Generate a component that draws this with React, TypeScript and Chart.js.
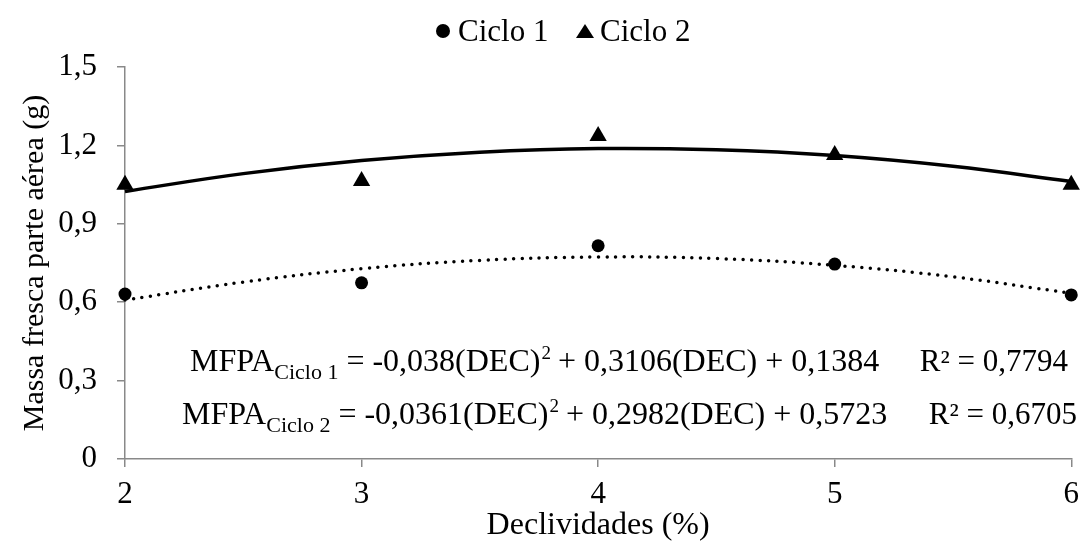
import React, { useEffect, useRef } from 'react';
import { Chart, registerables } from 'chart.js';

Chart.register(...registerables);

// ---- data ----
const declividades = [2, 3, 4, 5, 6];
const ciclo1 = [0.631, 0.674, 0.816, 0.746, 0.628];
const ciclo2 = [1.049, 1.064, 1.236, 1.163, 1.049];
const trendX = [2, 2.5, 3, 3.5, 4, 4.5, 5, 5.5, 6];
const trendCiclo1 = [0.608, 0.677, 0.728, 0.76, 0.773, 0.767, 0.741, 0.697, 0.634];
const trendCiclo2 = [1.024, 1.092, 1.142, 1.174, 1.188, 1.183, 1.161, 1.12, 1.062];
const yTickLabels = ['0', '0,3', '0,6', '0,9', '1,2', '1,5'];
const xTickLabels = ['2', '3', '4', '5', '6'];
const seriesNames = ['Ciclo 1', 'Ciclo 2'];
const xTitle = 'Declividades (%)';
const yTitle = 'Massa fresca parte aérea (g)';
const equation1 = [
  ['MFPA', 'n'],
  ['Ciclo 1', 'sub'],
  [' = -0,038(DEC)', 'n'],
  ['2', 'sup'],
  [' + 0,3106(DEC) + 0,1384', 'n'],
];
const equation2 = [
  ['MFPA', 'n'],
  ['Ciclo 2', 'sub'],
  [' = -0,0361(DEC)', 'n'],
  ['2', 'sup'],
  [' + 0,2982(DEC) + 0,5723', 'n'],
];
const r2Texts = ['R² = 0,7794', 'R² = 0,6705'];

const FONT = "'Liberation Serif', 'Times New Roman', serif";
const AXIS_GREY = '#898989';
const FS = 31;

const overlayPlugin = {
  id: 'overlay',
  afterDraw(chart: any) {
    const ctx = chart.ctx as CanvasRenderingContext2D;
    ctx.save();
    ctx.fillStyle = '#000';
    ctx.textBaseline = 'alphabetic';
    ctx.textAlign = 'left';

    // legend
    ctx.beginPath();
    ctx.arc(443, 31, 7, 0, Math.PI * 2);
    ctx.fill();
    ctx.font = `${FS}px ${FONT}`;
    ctx.fillText(seriesNames[0], 458, 41);
    ctx.beginPath();
    ctx.moveTo(585, 24);
    ctx.lineTo(594, 38);
    ctx.lineTo(576, 38);
    ctx.closePath();
    ctx.fill();
    ctx.fillText(seriesNames[1], 600, 41);

    // equations
    const drawEq = (segs: any[], x0: number, base: number) => {
      let x = x0;
      for (const [t, kind] of segs) {
        if (kind === 'n') {
          ctx.font = `32px ${FONT}`;
          ctx.fillText(t, x, base);
        } else if (kind === 'sub') {
          ctx.font = `22px ${FONT}`;
          ctx.fillText(t, x, base + 8);
        } else {
          ctx.font = `19px ${FONT}`;
          ctx.fillText(t, x + 1, base - 12);
        }
        x += ctx.measureText(t).width;
      }
    };
    drawEq(equation1, 190, 371);
    drawEq(equation2, 182, 424);
    ctx.font = `${FS}px ${FONT}`;
    ctx.textAlign = 'right';
    ctx.fillText(r2Texts[0], 1068, 371);
    ctx.fillText(r2Texts[1], 1077, 424);
    ctx.restore();
  },
};

export default function App() {
  const ref = useRef<HTMLCanvasElement>(null);
  useEffect(() => {
    document.body.style.margin = '0';
    document.body.style.overflow = 'hidden';
    const canvas = ref.current!;
    const chart = new Chart(canvas, {
      type: 'scatter',
      data: {
        datasets: [
          {
            type: 'scatter',
            label: seriesNames[0],
            data: declividades.map((x, i) => ({ x, y: ciclo1[i] })),
            pointStyle: 'circle',
            pointRadius: 6.5,
            backgroundColor: '#000',
            borderColor: '#000',
            borderWidth: 0,
            order: 0,
            clip: false,
          } as any,
          {
            type: 'scatter',
            label: seriesNames[1],
            data: declividades.map((x, i) => ({ x, y: ciclo2[i] })),
            pointStyle: 'triangle',
            pointRadius: 10,
            backgroundColor: '#000',
            borderColor: '#000',
            borderWidth: 0,
            order: 0,
            clip: false,
          } as any,
          {
            type: 'line',
            label: 'trend1',
            data: trendX.map((x, i) => ({ x, y: trendCiclo1[i] })),
            borderColor: '#000',
            borderWidth: 3.5,
            borderDash: [0, 8.5],
            borderCapStyle: 'round',
            pointRadius: 0,
            tension: 0.4,
            fill: false,
            order: 1,
            clip: false,
          } as any,
          {
            type: 'line',
            label: 'trend2',
            data: trendX.map((x, i) => ({ x, y: trendCiclo2[i] })),
            borderColor: '#000',
            borderWidth: 3.5,
            pointRadius: 0,
            tension: 0.4,
            fill: false,
            order: 1,
            clip: false,
          } as any,
        ],
      },
      options: {
        animation: false,
        responsive: false,
        devicePixelRatio: 1,
        layout: { padding: { top: 67, right: 11, left: 0, bottom: 0 } },
        plugins: { legend: { display: false }, tooltip: { enabled: false } },
        scales: {
          x: {
            type: 'linear',
            min: 2,
            max: 6,
            afterFit: (s: any) => { s.height = 83; },
            ticks: {
              stepSize: 1,
              color: '#000',
              font: { family: FONT, size: FS },
              padding: 9,
              callback: (_v: any, i: number) => xTickLabels[i],
            },
            grid: { drawOnChartArea: false, drawTicks: true, tickLength: 8, color: AXIS_GREY, lineWidth: 1.5 },
            border: { display: true, color: AXIS_GREY, width: 1.5 },
            title: {
              display: true,
              text: xTitle,
              color: '#000',
              font: { family: FONT, size: 32, lineHeight: 1 },
              padding: { top: 0, bottom: 0 },
            },
          },
          y: {
            type: 'linear',
            min: 0,
            max: 1.5,
            afterFit: (s: any) => { s.width = 125; },
            ticks: {
              stepSize: 0.3,
              color: '#000',
              font: { family: FONT, size: FS },
              padding: 20,
              callback: (_v: any, i: number) => yTickLabels[i],
            },
            grid: { drawOnChartArea: false, drawTicks: true, tickLength: 8, color: AXIS_GREY, lineWidth: 1.5 },
            border: { display: true, color: AXIS_GREY, width: 1.5 },
            title: {
              display: true,
              text: yTitle,
              color: '#000',
              font: { family: FONT, size: 30, lineHeight: 1.2 },
              padding: { top: 17, bottom: 0 },
            },
          },
        },
      } as any,
      plugins: [overlayPlugin],
    });
    return () => chart.destroy();
  }, []);
  return (
    <div style={{ width: 1088, height: 542 }}>
      <canvas ref={ref} width={1088} height={542} style={{ display: 'block' }} />
    </div>
  );
}
